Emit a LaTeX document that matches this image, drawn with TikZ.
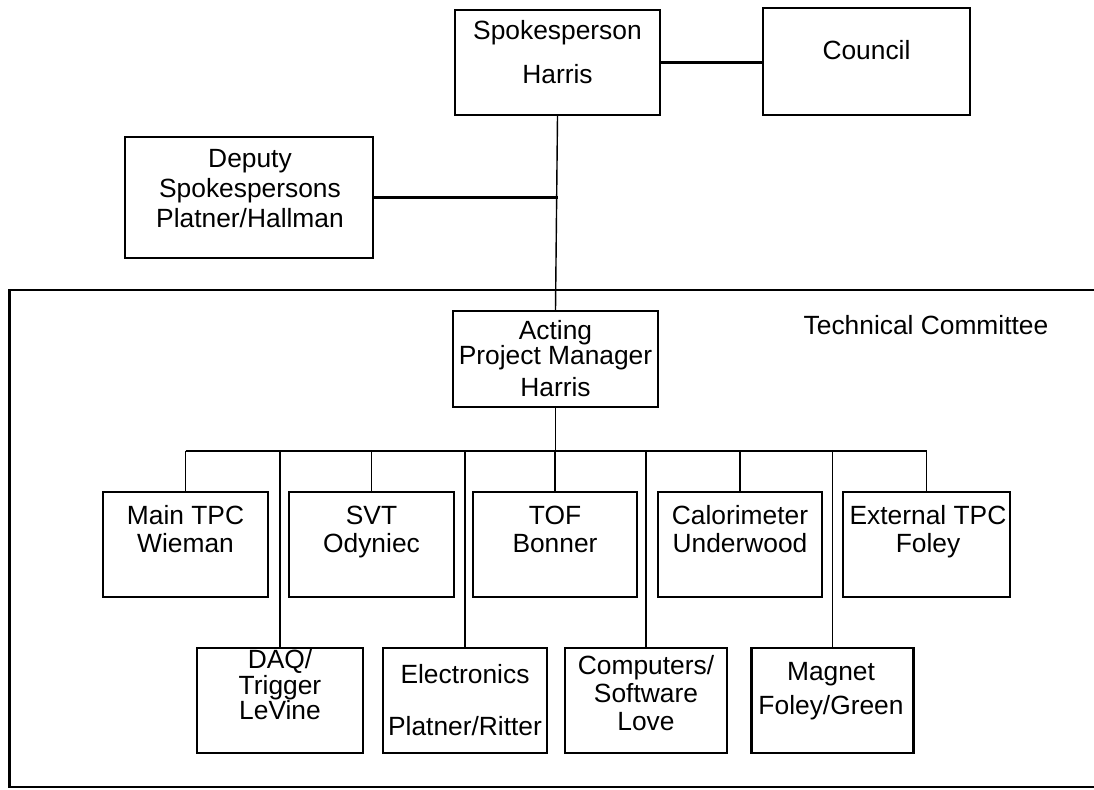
\documentclass[tikz,border=0pt]{standalone}
\usepackage{fontspec}
\setmainfont{Liberation Sans}
\usetikzlibrary{positioning,calc}

\tikzset{
  orgbox/.style={rectangle, draw, line width=1.4pt, inner sep=0pt},
  lbl/.style={align=center, inner sep=0pt},
  link/.style={line width=0.8pt},
  heavylink/.style={line width=1.6pt}
}

\begin{document}
\begin{tikzpicture}[font=\fontsize{15}{18}\selectfont]
    \useasboundingbox (0,0) rectangle (21.88,15.8);

    % Technical Committee frame (open to the right)
    \draw[line width=1.6pt] (21.88,10.0) -- (0.19,10.0) -- (0.19,0.06) -- (21.88,0.06);
    \node[lbl] (tclabel) at (18.52,9.30) {Technical Committee};

    % Spokesperson and Council
    \node[orgbox, minimum width=4.10cm, minimum height=2.10cm] (spokes) at (11.15,14.55) {};
    \node[lbl] (spokes-t) at (11.15,14.70) {Spokesperson\\[0.25cm]Harris\vphantom{y}};
    \node[orgbox, minimum width=4.14cm, minimum height=2.14cm] (council) at (17.33,14.57) {};
    \node[lbl] (council-t) at (17.33,14.80) {Council};

    % Deputy Spokespersons
    \node[orgbox, minimum width=4.96cm, minimum height=2.42cm] (deputy) at (4.98,11.85) {};
    \node[lbl] (deputy-t) at (5.00,11.98) {Deputy\\[-0.03cm]Spokespersons\\[-0.03cm]Platner/Hallman\vphantom{y}};

    % Acting Project Manager
    \node[orgbox, minimum width=4.10cm, minimum height=1.92cm] (apm) at (11.11,8.62) {};
    \node[lbl] (apm-t) at (11.11,8.58) {Acting\\[-0.12cm]Project Manager\\[0.0cm]Harris\vphantom{y}};

    % Subsystems - upper row
    \node[orgbox, minimum width=3.30cm, minimum height=2.10cm] (tpc) at (3.71,4.91) {};
    \node[lbl] (tpc-t) at (3.71,5.16) {Main TPC\\[-0.07cm]Wieman\vphantom{y}};
    \node[orgbox, minimum width=3.30cm, minimum height=2.10cm] (svt) at (7.43,4.91) {};
    \node[lbl] (svt-t) at (7.43,5.16) {SVT\\[-0.07cm]Odyniec};
    \node[orgbox, minimum width=3.28cm, minimum height=2.10cm] (tof) at (11.10,4.91) {};
    \node[lbl] (tof-t) at (11.10,5.16) {TOF\\[-0.07cm]Bonner\vphantom{y}};
    \node[orgbox, minimum width=3.28cm, minimum height=2.10cm] (calo) at (14.80,4.91) {};
    \node[lbl] (calo-t) at (14.80,5.16) {Calorimeter\\[-0.07cm]Underwood\vphantom{y}};
    \node[orgbox, minimum width=3.34cm, minimum height=2.10cm] (etpc) at (18.53,4.91) {};
    \node[lbl] (etpc-t) at (18.56,5.16) {External TPC\\[-0.07cm]Foley};

    % Subsystems - lower row
    \node[orgbox, minimum width=3.32cm, minimum height=2.10cm] (daq) at (5.60,1.79) {};
    \node[lbl] (daq-t) at (5.60,2.05) {DAQ/\\[-0.12cm]Trigger\\[-0.12cm]LeVine\vphantom{y}};
    \node[orgbox, minimum width=3.28cm, minimum height=2.10cm] (elec) at (9.30,1.79) {};
    \node[lbl] (elec-t) at (9.30,1.80) {Electronics\\[0.41cm]Platner/Ritter};
    \node[orgbox, minimum width=3.24cm, minimum height=2.10cm] (comp) at (12.92,1.79) {};
    \node[lbl] (comp-t) at (12.92,1.88) {Computers/\\[-0.07cm]Software\\[-0.07cm]Love\vphantom{y}};
    \node[orgbox, minimum width=3.24cm, minimum height=2.10cm] (mag) at (16.65,1.79) {};
    \node[lbl] (mag-t) at (16.62,1.98) {Magnet\\[0.05cm]Foley/Green};

    % Links
    \coordinate (bus) at (11.11,6.78);
    \draw[link, line width=1.2pt] (spokes.east) -- (spokes.east -| council.west);
    \draw[link] (spokes.south) -- (apm.north);
    \draw[heavylink] (deputy.east) -- (deputy.east -| spokes.south);
    \draw[link] (apm.south) -- (bus);
    \draw[heavylink] (tpc.north |- bus) -- (etpc.north |- bus);
    \draw[link] (tpc.north |- bus) -- (tpc.north);
    \draw[link] (svt.north |- bus) -- (svt.north);
    \draw[link] (tof.north |- bus) -- (tof.north);
    \draw[link] (calo.north |- bus) -- (calo.north);
    \draw[link] (etpc.north |- bus) -- (etpc.north);
    \draw[link] (daq.north |- bus) -- (daq.north);
    \draw[link] (elec.north |- bus) -- (elec.north);
    \draw[link] (comp.north |- bus) -- (comp.north);
    \draw[link] (mag.north |- bus) -- (mag.north);
\end{tikzpicture}
\end{document}
